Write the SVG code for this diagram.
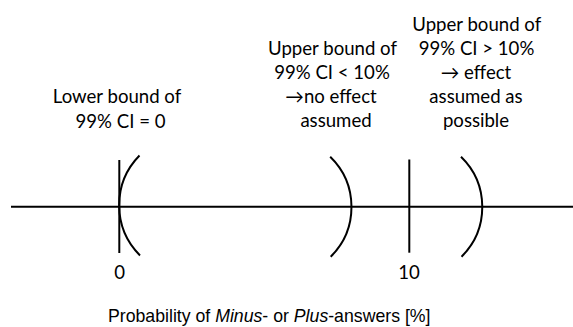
<svg xmlns="http://www.w3.org/2000/svg" width="573" height="327" viewBox="0 0 573 327">
<style>
.lbl{font-family:Lato,"Liberation Sans","DejaVu Sans",sans-serif;font-size:18.6px;fill:#000;text-anchor:middle}
.ln{stroke:#000;stroke-width:2;fill:none}
.cap{font-family:"Liberation Sans",Arial,sans-serif;font-size:17.7px;fill:#000}
</style>
<rect width="573" height="327" fill="#fff"/>
<g id="axis">
<line class="ln" x1="11" y1="206.7" x2="573" y2="206.7"/>
<line class="ln" x1="119.3" y1="160" x2="119.3" y2="253"/>
<line class="ln" x1="409.3" y1="159.5" x2="409.3" y2="252.7"/>
</g>
<g id="connectors">
<path class="ln" d="M139.5 155.5 A71 71 0 0 0 140 255.5"/>
<path class="ln" d="M330.2 156.7 A70 70 0 0 1 330.7 256.7"/>
<path class="ln" d="M461 156.7 A70 70 0 0 1 461.5 256.7"/>
</g>
<g id="lower-label">
<text class="lbl" x="117" y="103.3">Lower bound of</text>
<text class="lbl" x="120.5" y="127.7">99% CI = 0</text>
</g>
<g id="upper-lt-label">
<text class="lbl" x="332.5" y="55">Upper bound of</text>
<text class="lbl" x="332" y="79">99% CI &lt; 10%</text>
<text class="lbl" x="331" y="103">→no effect</text>
<text class="lbl" x="336" y="127">assumed</text>
</g>
<g id="upper-gt-label">
<text class="lbl" x="476.7" y="31">Upper bound of</text>
<text class="lbl" x="476.5" y="55">99% CI &gt; 10%</text>
<text class="lbl" x="476" y="79">→ effect</text>
<text class="lbl" x="476" y="103">assumed as</text>
<text class="lbl" x="476" y="127">possible</text>
</g>
<g id="ticks">
<text class="lbl" x="119.7" y="279">0</text>
<text class="lbl" x="409" y="279">10</text>
</g>
<g id="caption">
<text class="cap" x="108" y="322">Probability of <tspan font-style="italic">Minus</tspan>- or <tspan font-style="italic">Plus</tspan>-answers [%]</text>
</g>
</svg>
